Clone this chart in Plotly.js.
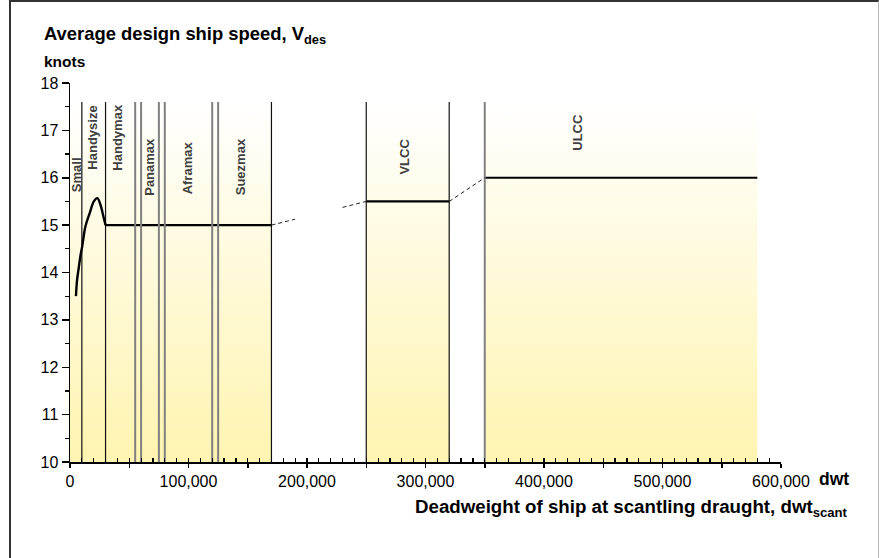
<!DOCTYPE html>
<html>
<head>
<meta charset="utf-8">
<script src="https://cdn.plot.ly/plotly-3.0.1.min.js"></script>
<style>
  html, body { margin: 0; padding: 0; background: #fff; }
  #chart { width: 879px; height: 558px; position: absolute; left: 0; top: 0; }
  #frame { position: absolute; left: 9px; top: 0px; width: 867px; height: 570px;
           border-left: 2px solid #333; border-top: 2px solid #333; border-right: 1px solid #bbb;
           pointer-events: none; }
</style>
</head>
<body>
<div id="chart"></div>
<div id="frame"></div>
<script>
// ---- data ----
const shadeStart = [0, 250000, 350000];
const shadeEnd   = [170000, 320000, 580000];
const shadeTop   = 17.6;
const axisMin    = 10;

const blackBounds = [10000, 30000, 170000, 250000, 320000];
const grayBounds  = [55000, 60000, 75000, 80000, 120000, 125000, 350000];

const curveX = [5000, 6000, 7400, 8800, 10300, 13000, 16700, 20100, 23000, 25700, 28500, 30000];
const curveY = [13.5, 13.85, 14.1, 14.35, 14.55, 14.97, 15.26, 15.5, 15.57, 15.43, 15.15, 15.0];

const levelStart = [30000, 250000, 350000];
const levelEnd   = [170000, 320000, 580000];
const levelSpeed = [15.0, 15.5, 16.0];

const dashX = [[170000, 190000], [230000, 250000], [320000, 350000]];
const dashY = [[15.0, 15.125], [15.375, 15.5], [15.5, 16.0]];

const categories = ['Small', 'Handysize', 'Handymax', 'Panamax', 'Aframax', 'Suezmax', 'VLCC', 'ULCC'];
const labelX = [6100, 18700, 39800, 67000, 98800, 143800, 282000, 428700];
const labelY = [16.06, 16.85, 16.85, 16.24, 16.2, 16.23, 16.45, 16.95];

const xTickVals = [0, 100000, 200000, 300000, 400000, 500000, 600000];
const xTickText = ['0', '100,000', '200,000', '300,000', '400,000', '500,000', '600,000'];
const yTickVals = [10, 11, 12, 13, 14, 15, 16, 17, 18];

// ---- traces ----
const FONT = '"Liberation Sans", Arial, sans-serif';
const traces = [];

shadeStart.forEach((x0, i) => {
  const x1 = shadeEnd[i];
  traces.push({
    type: 'scatter', mode: 'none', hoverinfo: 'skip', showlegend: false,
    x: [x0, x1, x1, x0, x0], y: [axisMin, axisMin, shadeTop, shadeTop, axisMin],
    fill: 'toself',
    fillgradient: { type: 'vertical', colorscale: [[0, '#fff4b0'], [1, '#ffffff']] }
  });
});

function vlines(xs) {
  const x = [], y = [];
  xs.forEach(v => { x.push(v, v, null); y.push(axisMin, shadeTop, null); });
  return { x, y };
}
const vb = vlines(blackBounds);
traces.push({ type: 'scatter', mode: 'lines', x: vb.x, y: vb.y, line: { color: '#111', width: 1.2 }, hoverinfo: 'skip', showlegend: false });

const lx = [], ly = [];
levelStart.forEach((s, i) => { lx.push(s, levelEnd[i], null); ly.push(levelSpeed[i], levelSpeed[i], null); });
traces.push({ type: 'scatter', mode: 'lines', x: lx, y: ly, line: { color: '#000', width: 2.2 }, hoverinfo: 'skip', showlegend: false });

const vg = vlines(grayBounds);
traces.push({ type: 'scatter', mode: 'lines', x: vg.x, y: vg.y, line: { color: '#808080', width: 2 }, hoverinfo: 'skip', showlegend: false });

dashX.forEach((dx, i) => {
  traces.push({ type: 'scatter', mode: 'lines', x: dx, y: dashY[i], line: { color: '#222', width: 1, dash: '4px,3px' }, hoverinfo: 'skip', showlegend: false });
});

traces.push({ type: 'scatter', mode: 'lines', x: curveX, y: curveY, line: { color: '#000', width: 2.4, shape: 'spline', smoothing: 1 }, hoverinfo: 'skip', showlegend: false });

traces.push({ type: 'scatter', mode: 'lines', x: [], y: [], xaxis: 'x2', yaxis: 'y', showlegend: false, hoverinfo: 'skip' });

const annotations = categories.map((c, i) => ({
  x: labelX[i], y: labelY[i], xref: 'x', yref: 'y', text: '<b>' + c + '</b>', textangle: -90,
  showarrow: false, font: { family: FONT, size: 13, color: '#404040' }, xanchor: 'center', yanchor: 'middle'
}));

annotations.push({
  xref: 'paper', yref: 'paper', x: (42 - 70) / 711, y: (558 - 96 - 35) / 379, xanchor: 'left', yanchor: 'middle',
  text: '<b>Average design ship speed, V<sub>des</sub></b>', showarrow: false, font: { family: FONT, size: 18.4, color: '#000' }
});
annotations.push({
  xref: 'paper', yref: 'paper', x: (42 - 70) / 711, y: (558 - 96 - 61) / 379, xanchor: 'left', yanchor: 'middle',
  text: '<b>knots</b>', showarrow: false, font: { family: FONT, size: 15.5, color: '#000' }
});
annotations.push({
  xref: 'paper', yref: 'paper', x: (817 - 70) / 711, y: -(479 - 462) / 379, xanchor: 'left', yanchor: 'middle',
  text: '<b>dwt</b>', showarrow: false, font: { family: FONT, size: 17.5, color: '#000' }
});
annotations.push({
  xref: 'paper', yref: 'paper', x: (849 - 70) / 711, y: -(508 - 462) / 379, xanchor: 'right', yanchor: 'middle',
  text: '<b>Deadweight of ship at scantling draught, dwt<sub>scant</sub></b>', showarrow: false, font: { family: FONT, size: 18.7, color: '#000' }
});

const layout = {
  width: 879, height: 558,
  margin: { l: 70, r: 98, t: 83, b: 96 },
  paper_bgcolor: '#fff', plot_bgcolor: 'rgba(0,0,0,0)',
  font: { family: FONT, size: 16, color: '#000' },
  showlegend: false,
  xaxis: {
    range: [0, 600000], tickvals: xTickVals, ticktext: xTickText,
    ticks: 'outside', ticklen: 4, tickwidth: 1.5, tickcolor: '#000',
    minor: { dtick: 50000, ticks: 'outside', ticklen: 4, tickwidth: 1.5, tickcolor: '#000' },
    showline: true, linecolor: '#000', linewidth: 1.8,
    showgrid: false, zeroline: false, fixedrange: true,
    tickfont: { family: FONT, size: 16, color: '#000' }
  },
  xaxis2: {
    range: [0, 600000], overlaying: 'x', anchor: 'y', side: 'bottom',
    tick0: 0, dtick: 10000, ticks: 'inside', ticklen: 4, tickwidth: 1.2, tickcolor: '#000',
    showticklabels: false, showline: false, showgrid: false, zeroline: false
  },
  yaxis: {
    range: [10, 18], tickvals: yTickVals,
    ticks: 'outside', ticklen: 7, tickwidth: 1.5, tickcolor: '#000',
    minor: { dtick: 0.5, ticks: 'outside', ticklen: 4, tickwidth: 1.2, tickcolor: '#000' },
    showline: true, linecolor: '#000', linewidth: 1.5,
    showgrid: false, zeroline: false, fixedrange: true,
    tickfont: { family: FONT, size: 16, color: '#000' }
  },
  annotations: annotations
};

Plotly.newPlot('chart', traces, layout, { staticPlot: true, displayModeBar: false });
</script>
</body>
</html>
